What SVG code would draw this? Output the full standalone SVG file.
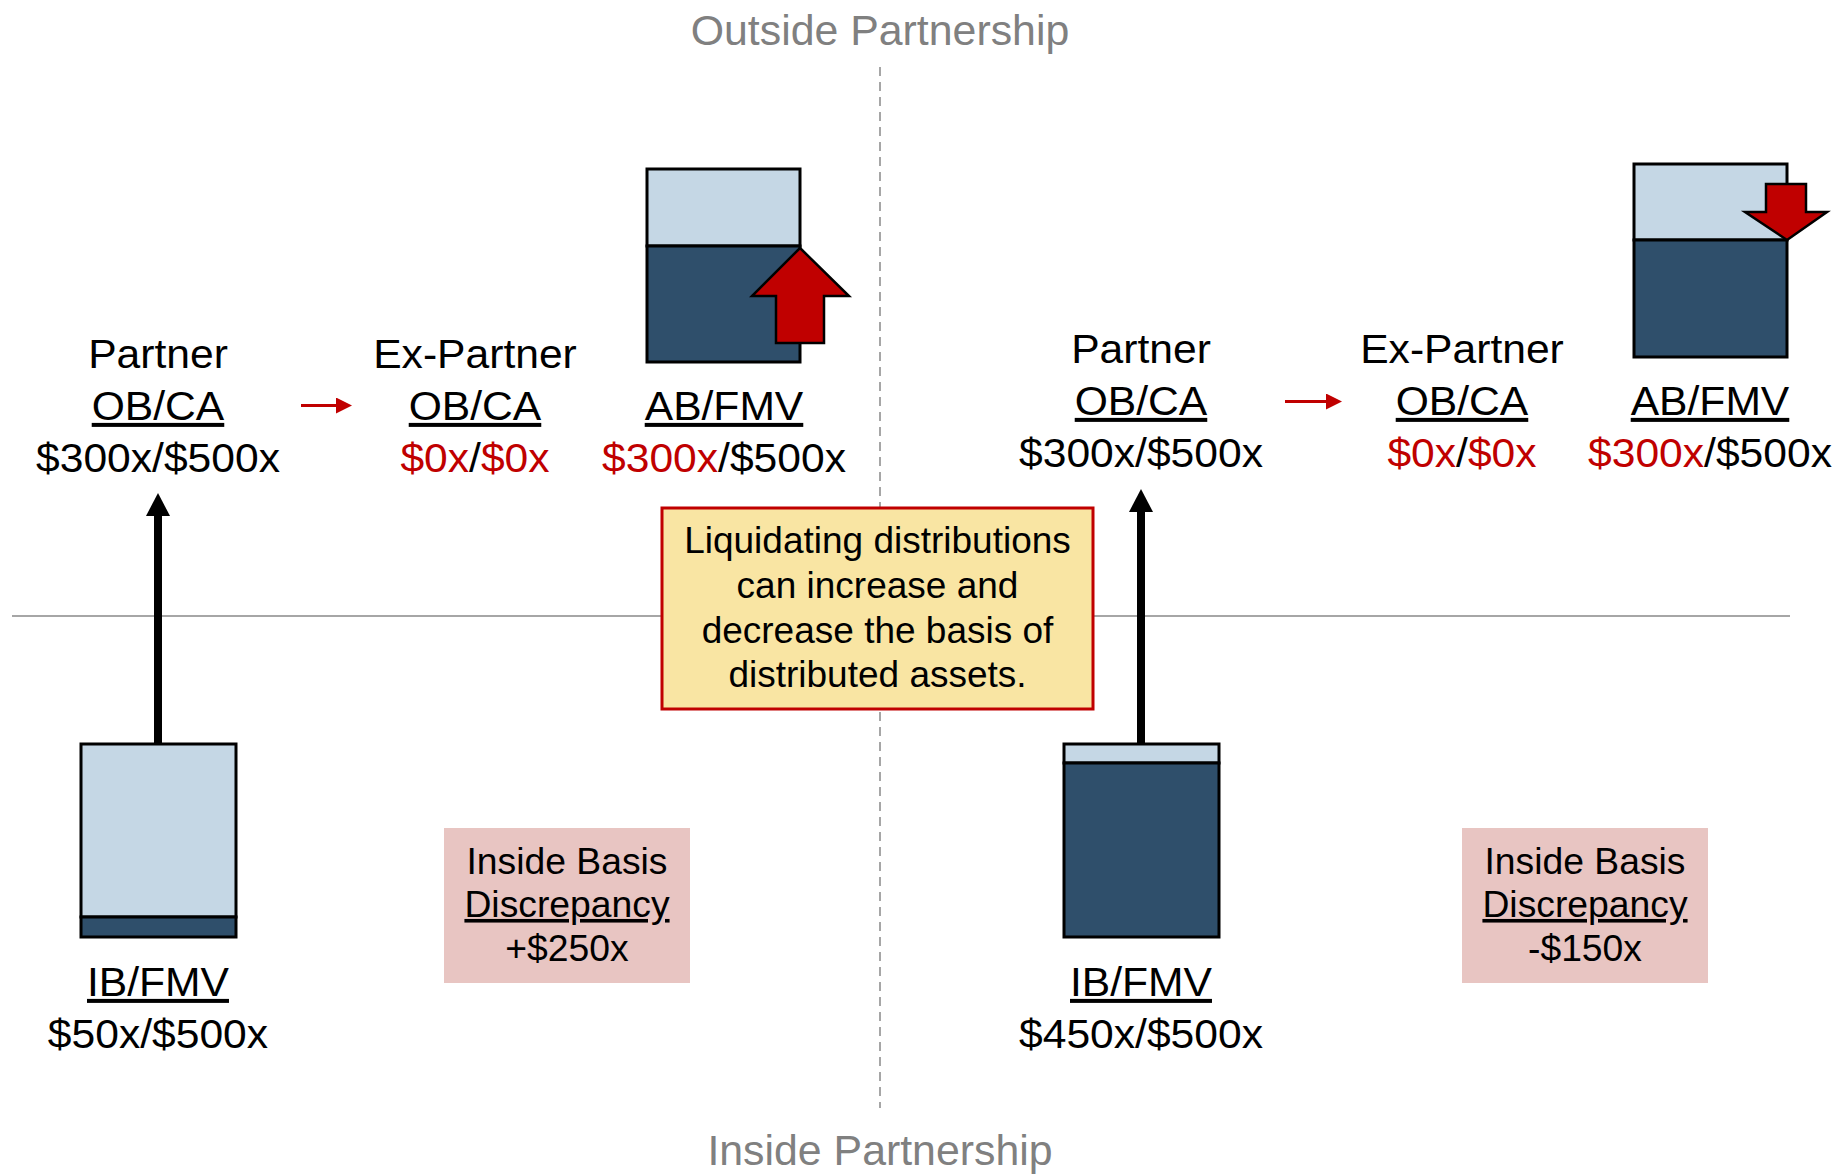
<svg xmlns="http://www.w3.org/2000/svg" width="1837" height="1174" viewBox="0 0 1837 1174">
<style>
  text { font-family: "Liberation Sans", Arial, sans-serif; fill: #000; text-anchor: middle; }
  .lbl { font-size: 40px; }
  .hdr { font-size: 42px; fill: #808080; }
  .u { text-decoration: underline; }
  .red { fill: #c00000; }
  .note { font-size: 37px; }
  .disc { font-size: 36px; }
  .light { fill: #c5d7e5; stroke: #000; stroke-width: 3; }
  .dark { fill: #2f4f6b; stroke: #000; stroke-width: 3; }
  .bigarrow { fill: #c00000; stroke: #000; stroke-width: 2.5; stroke-linejoin: miter; }
  .pink { fill: #e8c5c2; }
</style>
<defs>
  <marker id="blackHead" markerUnits="userSpaceOnUse" markerWidth="24" markerHeight="24" refX="0" refY="12" orient="auto">
    <path d="M0,0 L23,12 L0,24 Z" fill="#000"/>
  </marker>
  <marker id="redHead" markerUnits="userSpaceOnUse" markerWidth="16" markerHeight="16" refX="0" refY="8" orient="auto">
    <path d="M0,0 L16,8 L0,16 Z" fill="#c00000"/>
  </marker>
</defs>
<rect width="1837" height="1174" fill="#fff"/>

<g id="dividers">
  <line x1="880" y1="67" x2="880" y2="1108" stroke="#a6a6a6" stroke-width="2" stroke-dasharray="9 6"/>
  <line x1="12" y1="616" x2="1790" y2="616" stroke="#a6a6a6" stroke-width="2"/>
  <text class="hdr" x="880" y="45" transform="matrix(1.02 0 0 1 -17.6 0)">Outside Partnership</text>
  <text class="hdr" x="880" y="1165" transform="matrix(1.02 0 0 1 -17.6 0)">Inside Partnership</text>
</g>

<g id="connectors">
  <line x1="158" y1="744" x2="158" y2="516" stroke="#000" stroke-width="8" marker-end="url(#blackHead)"/>
  <line x1="1141" y1="744" x2="1141" y2="512" stroke="#000" stroke-width="8" marker-end="url(#blackHead)"/>
  <line x1="301" y1="405.5" x2="336" y2="405.5" stroke="#c00000" stroke-width="3" marker-end="url(#redHead)"/>
  <line x1="1285" y1="401.5" x2="1326" y2="401.5" stroke="#c00000" stroke-width="3" marker-end="url(#redHead)"/>
</g>

<g id="left-partner" transform="matrix(1.065 0 0 1 -10.27 0)">
  <text class="lbl" x="158" y="368">Partner</text>
  <text class="lbl u" x="158" y="420">OB/CA</text>
  <text class="lbl" x="158" y="472">$300x/$500x</text>
</g>

<g id="left-expartner" transform="matrix(1.065 0 0 1 -30.875 0)">
  <text class="lbl" x="475" y="368">Ex-Partner</text>
  <text class="lbl u" x="475" y="420">OB/CA</text>
  <text class="lbl" x="475" y="472"><tspan class="red">$0x</tspan>/<tspan class="red">$0x</tspan></text>
</g>

<g id="left-abfmv">
  <rect class="light" x="647" y="169" width="153" height="77"/>
  <rect class="dark" x="647" y="246" width="153" height="116"/>
  <path class="bigarrow" d="M800,248 L849,296 L824,296 L824,343 L776,343 L776,296 L752,296 Z"/>
  <g transform="matrix(1.065 0 0 1 -47.06 0)">
    <text class="lbl u" x="724" y="420">AB/FMV</text>
    <text class="lbl" x="724" y="472"><tspan class="red">$300x</tspan>/$500x</text>
  </g>
</g>

<g id="left-ibfmv">
  <rect class="light" x="81" y="744" width="155" height="173"/>
  <rect class="dark" x="81" y="917" width="155" height="20"/>
  <g transform="matrix(1.065 0 0 1 -10.27 0)">
    <text class="lbl u" x="158" y="996">IB/FMV</text>
    <text class="lbl" x="158" y="1048">$50x/$500x</text>
  </g>
</g>

<g id="left-discrepancy">
  <rect class="pink" x="444" y="828" width="246" height="155"/>
  <g transform="matrix(1.036 0 0 1 -20.41 0)">
    <text class="disc" x="567" y="874">Inside Basis</text>
    <text class="disc u" x="567" y="917">Discrepancy</text>
    <text class="disc" x="567" y="961">+$250x</text>
  </g>
</g>

<g id="note">
  <rect x="662" y="508" width="431" height="201" fill="#f9e5a3" stroke="#c00000" stroke-width="3"/>
  <text class="note" x="877.5" y="553">Liquidating distributions</text>
  <text class="note" x="877.5" y="598">can increase and</text>
  <text class="note" x="877.5" y="643">decrease the basis of</text>
  <text class="note" x="877.5" y="687">distributed assets.</text>
</g>

<g id="right-partner" transform="matrix(1.065 0 0 1 -74.165 0)">
  <text class="lbl" x="1141" y="363">Partner</text>
  <text class="lbl u" x="1141" y="415">OB/CA</text>
  <text class="lbl" x="1141" y="467">$300x/$500x</text>
</g>

<g id="right-expartner" transform="matrix(1.065 0 0 1 -95.03 0)">
  <text class="lbl" x="1462" y="363">Ex-Partner</text>
  <text class="lbl u" x="1462" y="415">OB/CA</text>
  <text class="lbl" x="1462" y="467"><tspan class="red">$0x</tspan>/<tspan class="red">$0x</tspan></text>
</g>

<g id="right-abfmv">
  <rect class="light" x="1634" y="164" width="153" height="76"/>
  <rect class="dark" x="1634" y="240" width="153" height="117"/>
  <path class="bigarrow" d="M1787,240 L1827,212 L1806,212 L1806,184 L1766,184 L1766,212 L1745,212 Z"/>
  <g transform="matrix(1.065 0 0 1 -111.15 0)">
    <text class="lbl u" x="1710" y="415">AB/FMV</text>
    <text class="lbl" x="1710" y="467"><tspan class="red">$300x</tspan>/$500x</text>
  </g>
</g>

<g id="right-ibfmv">
  <rect class="light" x="1064" y="744" width="155" height="19"/>
  <rect class="dark" x="1064" y="763" width="155" height="174"/>
  <g transform="matrix(1.065 0 0 1 -74.165 0)">
    <text class="lbl u" x="1141" y="996">IB/FMV</text>
    <text class="lbl" x="1141" y="1048">$450x/$500x</text>
  </g>
</g>

<g id="right-discrepancy">
  <rect class="pink" x="1462" y="828" width="246" height="155"/>
  <g transform="matrix(1.036 0 0 1 -57.06 0)">
    <text class="disc" x="1585" y="874">Inside Basis</text>
    <text class="disc u" x="1585" y="917">Discrepancy</text>
    <text class="disc" x="1585" y="961">-$150x</text>
  </g>
</g>
</svg>
